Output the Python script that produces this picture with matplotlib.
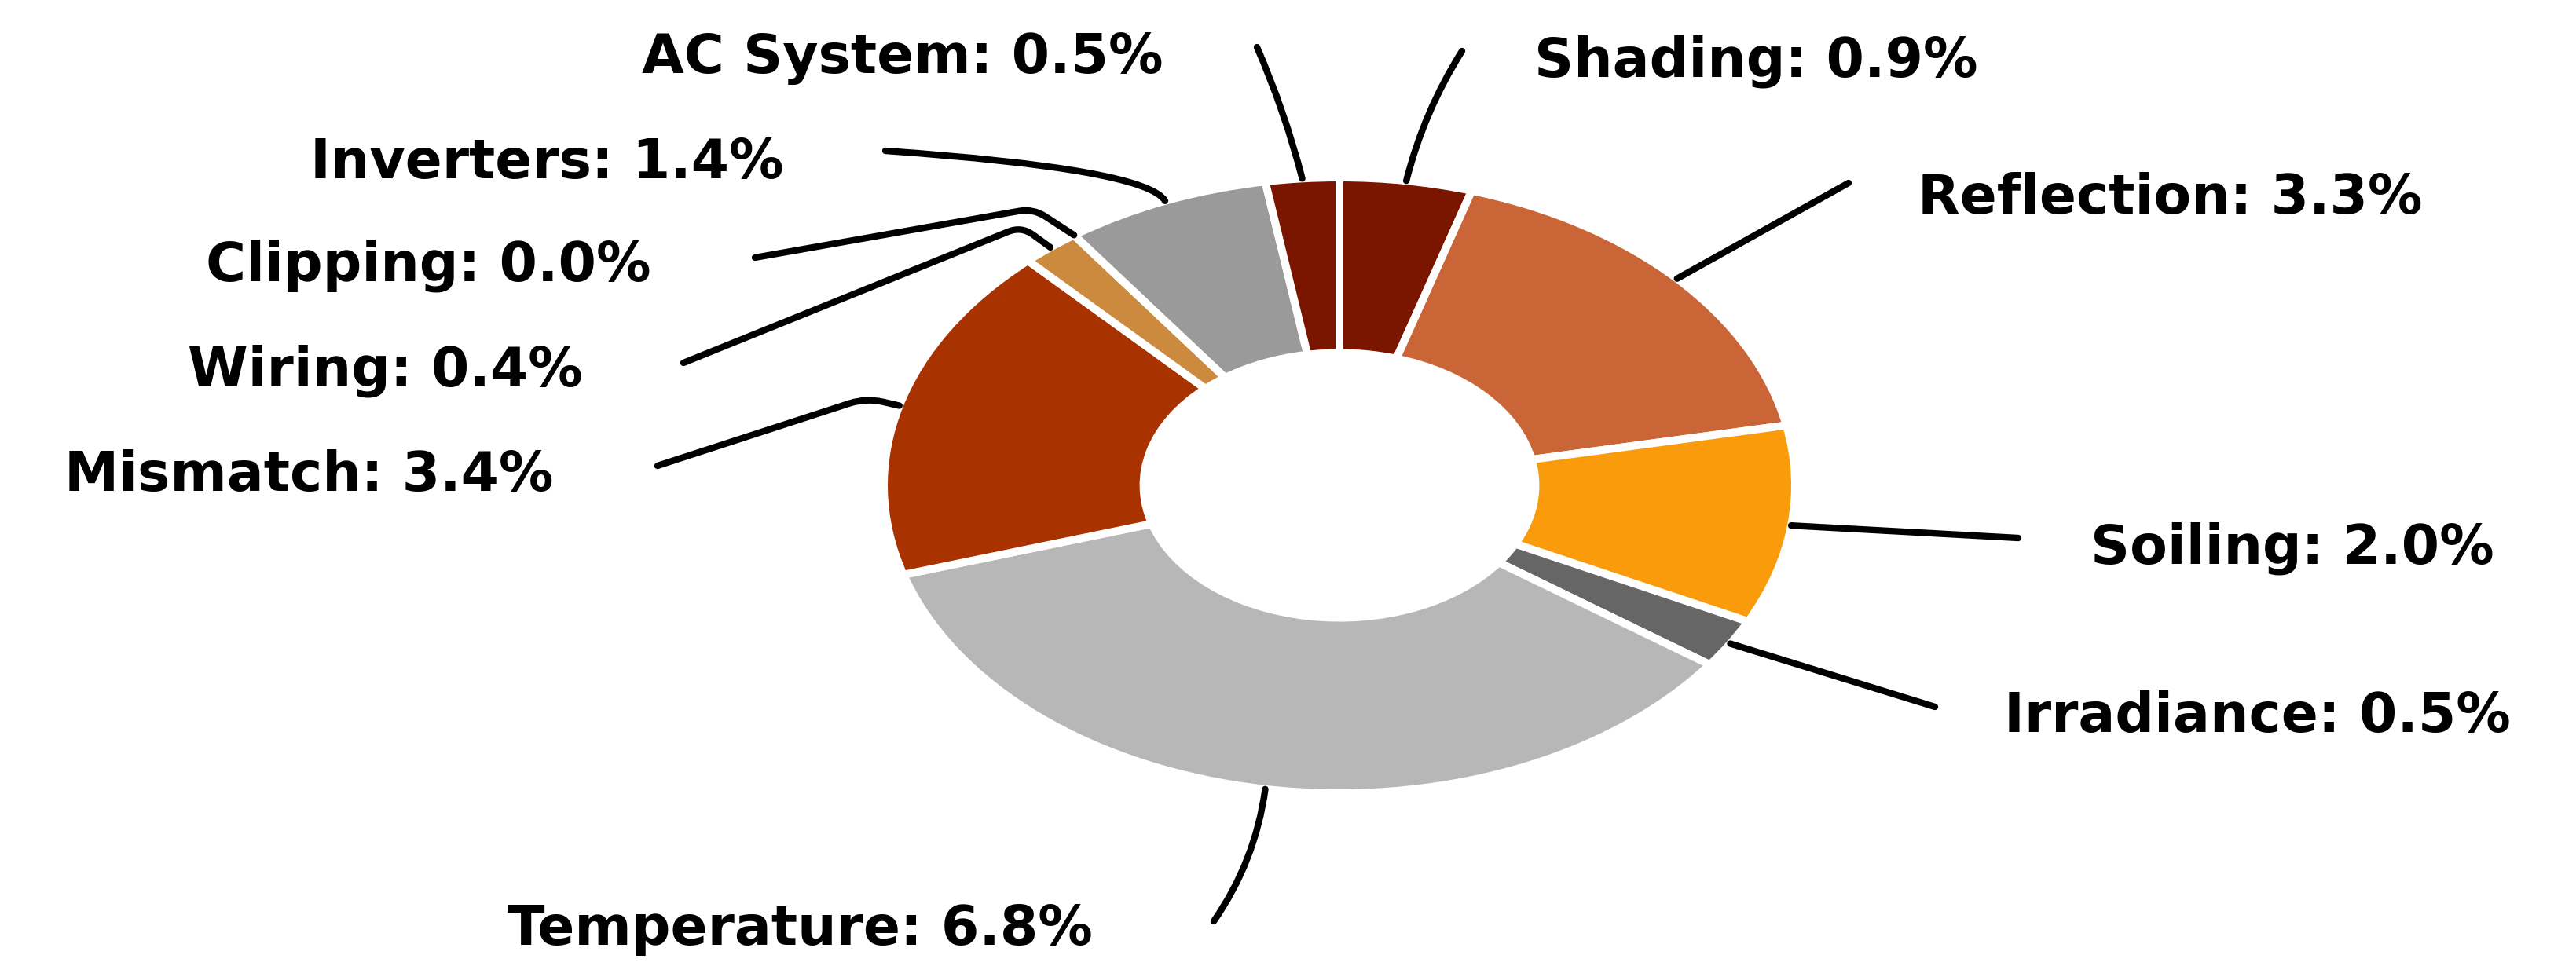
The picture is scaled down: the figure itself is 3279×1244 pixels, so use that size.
import numpy as np
import matplotlib
matplotlib.use('Agg')
from matplotlib import pyplot as plt

# loss categories, clockwise from 12 o'clock
labels = ['Shading', 'Reflection', 'Soiling', 'Irradiance', 'Temperature',
          'Mismatch', 'Wiring', 'Clipping', 'Inverters', 'AC System']
losses = [0.9, 3.3, 2.0, 0.5, 6.8, 3.4, 0.4, 0.0, 1.4, 0.5]
colors = ['#7a1500', '#c96536', '#f99b0b', '#666666', '#b7b7b7',
          '#a83300', '#cc8a3f', '#d9d9d9', '#9a9a9a', '#7a1500']

W, H, DPI = 3280, 1244, 200

# label layout in picture pixels (x from left, y from top)
text_xy = [(1953, 98), (2441, 272), (2661, 718), (2551, 932), (1391, 1203),
           (705, 625), (742, 492), (829, 358), (998, 227), (1481, 93)]
line_end = [(1861, 65), (2353, 233), (2569, 685), (2463, 900), (1545, 1173),
            (837, 593), (870, 462), (961, 328), (1127, 192), (1600, 60)]
text_ha = ['left', 'left', 'left', 'left', 'right',
           'right', 'right', 'right', 'right', 'right']
conn = ['arc3,rad=0.08', 'arc3,rad=0', 'arc3,rad=0', 'arc3,rad=0',
        'arc3,rad=0.12',
        'angle,angleA=18,angleB=167,rad=22',
        'angle,angleA=22,angleB=144,rad=18',
        'angle,angleA=10,angleB=147,rad=18',
        'angle3,angleA=-4,angleB=120',
        'arc3,rad=-0.04']


def fig_frac(p):
    return (p[0] / W, 1 - p[1] / H)


fig = plt.figure(figsize=(W / DPI, H / DPI), dpi=DPI)
ax = fig.add_axes([0, 0, 1, 1])

wedges, _ = ax.pie(losses, colors=colors, startangle=90, counterclock=False,
                   radius=1.0,
                   wedgeprops=dict(width=0.57, edgecolor='white', linewidth=3.6))

# the donut is drawn stretched sideways, like the original
cx, cy = 1705, 618      # centre, px
sx, sy = 580, 392       # px per data unit
ax.set_aspect('auto')
ax.set_xlim(-cx / sx, (W - cx) / sx)
ax.set_ylim(-(H - cy) / sy, cy / sy)
ax.axis('off')

for i, w in enumerate(wedges):
    ang = np.deg2rad((w.theta1 + w.theta2) / 2)
    anchor = (w.r * np.cos(ang), w.r * np.sin(ang))
    ax.annotate('', xy=anchor, xycoords='data',
                xytext=fig_frac(line_end[i]), textcoords='figure fraction',
                arrowprops=dict(arrowstyle='-', color='black', lw=3.0,
                                shrinkA=0, shrinkB=0,
                                connectionstyle=conn[i]))
    fig.text(*fig_frac(text_xy[i]), '%s: %.1f%%' % (labels[i], losses[i]),
             ha=text_ha[i], va='baseline', fontsize=25,
             fontweight='bold', family='DejaVu Sans', color='black')

fig.savefig('out.png', dpi=DPI, facecolor='white')
